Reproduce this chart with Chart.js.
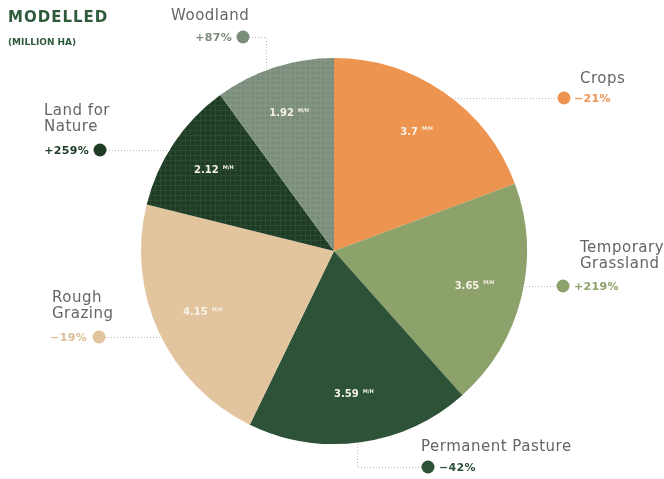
<!DOCTYPE html>
<html>
<head>
<meta charset="utf-8">
<script src="https://cdn.jsdelivr.net/npm/chart.js@4"></script>
<style>
  html, body { margin: 0; padding: 0; background: #fff; }
  #wrap { width: 664px; height: 479px; position: relative; }
</style>
</head>
<body>
<div id="wrap"><canvas id="landChart" width="664" height="479"></canvas></div>
<script>
  const categories = ['Crops', 'Temporary Grassland', 'Permanent Pasture', 'Rough Grazing', 'Land for Nature', 'Woodland'];
  const areas = [3.7, 3.65, 3.59, 4.15, 2.12, 1.92];
  const areaLabels = ['3.7', '3.65', '3.59', '4.15', '2.12', '1.92'];
  const changes = ['\u221221%', '+219%', '\u221242%', '\u221219%', '+259%', '+87%'];

  const sliceColors = ['#ee9451', '#8ca26a', '#2d5237', '#e2c59e', '#1e3c25', '#7b8e7b'];
  const pctColors = ['#ee9451', '#8ca26a', '#2d5237', '#d9bd96', '#1e3c25', '#7b8e7b'];

  // grid texture for the two "nature" slices
  function gridPattern(base, line) {
    const c = document.createElement('canvas');
    c.width = 5; c.height = 5;
    const g = c.getContext('2d');
    g.fillStyle = base;
    g.fillRect(0, 0, 5, 5);
    g.fillStyle = line;
    g.fillRect(0, 0, 5, 1);
    g.fillRect(0, 0, 1, 5);
    return document.getElementById('landChart').getContext('2d').createPattern(c, 'repeat');
  }
  const fills = sliceColors.slice();
  fills[4] = gridPattern('#1e3c25', '#2b4a31');
  fills[5] = gridPattern('#7b8e7b', '#879986');

  // callout layout: name lines, dot, percent text, leader style
  const callouts = [
    { name: ['Crops'], nx: 580, ny: 79, dot: [564, 98], px: 574, pAlign: 'left', lead: 'h' },
    { name: ['Temporary', 'Grassland'], nx: 580, ny: 248, dot: [563, 286], px: 574, pAlign: 'left', lead: 'h' },
    { name: ['Permanent Pasture'], nx: 421, ny: 447, dot: [428, 467], px: 439, pAlign: 'left', lead: 'v', elbowX: 357 },
    { name: ['Rough', 'Grazing'], nx: 52, ny: 298, dot: [99, 337], px: 87, pAlign: 'right', lead: 'h' },
    { name: ['Land for', 'Nature'], nx: 44, ny: 111, dot: [100, 150], px: 89, pAlign: 'right', lead: 'h' },
    { name: ['Woodland'], nx: 171, ny: 16, dot: [243, 37], px: 232, pAlign: 'right', lead: 'v', elbowX: 266 }
  ];

  const FONT = '"DejaVu Sans", sans-serif';

  const calloutPlugin = {
    id: 'callouts',
    afterDatasetsDraw(chart) {
      const ctx = chart.ctx;
      const arcs = chart.getDatasetMeta(0).data;
      const cx = arcs[0].x, cy = arcs[0].y, R = arcs[0].outerRadius;
      ctx.save();

      // values inside slices
      arcs.forEach((arc, i) => {
        const mid = (arc.startAngle + arc.endAngle) / 2;
        const r = R * 0.75;
        const x = cx + Math.cos(mid) * r;
        const y = cy + Math.sin(mid) * r;
        ctx.font = 'bold 10px ' + FONT;
        const w = ctx.measureText(areaLabels[i]).width;
        ctx.font = 'bold 5px ' + FONT;
        const sw = ctx.measureText('M/H').width;
        const left = x - (w + 4 + sw) / 2;
        ctx.fillStyle = '#f6f1e6';
        ctx.textBaseline = 'middle';
        ctx.textAlign = 'left';
        ctx.font = 'bold 10px ' + FONT;
        ctx.fillText(areaLabels[i], left, y);
        ctx.font = 'bold 5px ' + FONT;
        ctx.fillText('M/H', left + w + 4, y - 3);
      });

      // leaders, dots, names, percents
      callouts.forEach((c, i) => {
        const [dx, dy] = c.dot;
        ctx.strokeStyle = '#b9b9b9';
        ctx.lineWidth = 1;
        ctx.setLineDash([1, 2]);
        ctx.beginPath();
        if (c.lead === 'h') {
          const ex = Math.sqrt(Math.max(0, R * R - (dy - cy) * (dy - cy)));
          const edgeX = dx > cx ? cx + ex : cx - ex;
          ctx.moveTo(dx, dy + 0.5);
          ctx.lineTo(edgeX, dy + 0.5);
        } else {
          const ey = Math.sqrt(Math.max(0, R * R - (c.elbowX - cx) * (c.elbowX - cx)));
          const edgeY = dy > cy ? cy + ey : cy - ey;
          ctx.moveTo(dx, dy + 0.5);
          ctx.lineTo(c.elbowX + 0.5, dy + 0.5);
          ctx.lineTo(c.elbowX + 0.5, edgeY);
        }
        ctx.stroke();
        ctx.setLineDash([]);

        ctx.fillStyle = sliceColors[i];
        ctx.beginPath();
        ctx.arc(dx, dy, 6.5, 0, Math.PI * 2);
        ctx.fill();

        ctx.fillStyle = '#656565';
        ctx.font = '15px ' + FONT;
        ctx.letterSpacing = '0.5px';
        ctx.textAlign = 'left';
        ctx.textBaseline = 'middle';
        c.name.forEach((line, k) => ctx.fillText(line, c.nx, c.ny + k * 16));

        ctx.fillStyle = pctColors[i];
        ctx.font = 'bold 11px ' + FONT;
        ctx.letterSpacing = '0.3px';
        ctx.textAlign = c.pAlign;
        ctx.fillText(changes[i], c.px, dy + 1);
        ctx.letterSpacing = '0px';
      });

      // heading
      ctx.textAlign = 'left';
      ctx.fillStyle = '#2f5a3c';
      ctx.font = 'bold 15px ' + FONT;
      ctx.letterSpacing = '1px';
      ctx.fillText('MODELLED', 8, 18);
      ctx.font = 'bold 9px ' + FONT;
      ctx.letterSpacing = '0px';
      ctx.fillText('(MILLION HA)', 8, 43);
      ctx.restore();
    }
  };

  const config = {
    type: 'pie',
    data: {
      labels: categories,
      datasets: [{
        data: areas,
        backgroundColor: fills,
        borderWidth: 0,
        hoverOffset: 0
      }]
    },
    options: {
      responsive: false,
      animation: false,
      events: [],
      layout: {
        padding: { left: 141, right: 137, top: 58, bottom: 35 }
      },
      plugins: {
        legend: { display: false },
        tooltip: { enabled: false }
      }
    },
    plugins: [calloutPlugin]
  };

  const landChart = new Chart(document.getElementById('landChart'), config);
</script>
</body>
</html>
